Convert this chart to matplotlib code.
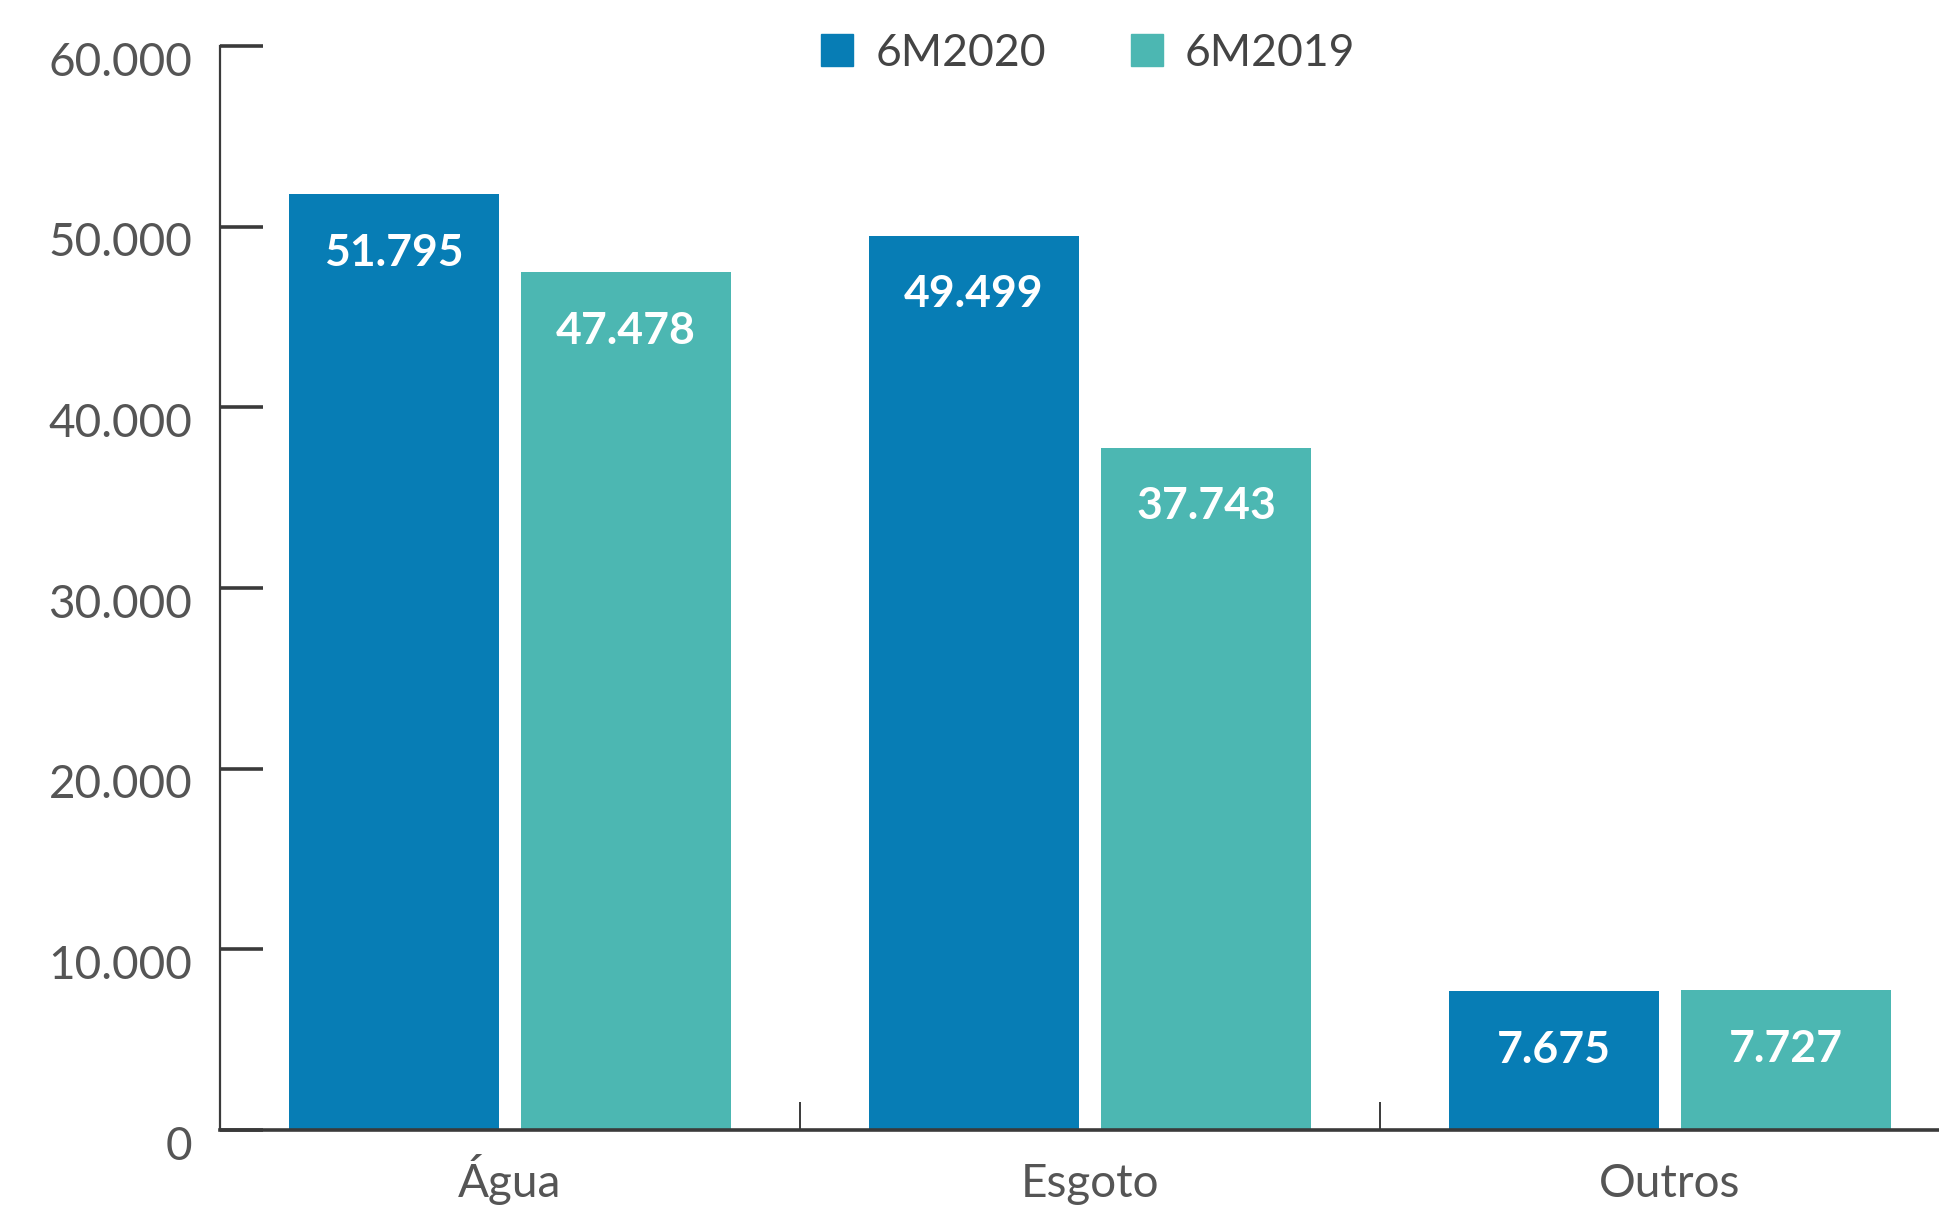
import numpy as np
import matplotlib
matplotlib.use("Agg")
import matplotlib.pyplot as plt
import matplotlib.transforms as mtransforms
from matplotlib.patches import Patch

# data
categories = ["Água", "Esgoto", "Outros"]
series_names = ["6M2020", "6M2019"]
values_2020 = [51795, 49499, 7675]
values_2019 = [47478, 37743, 7727]
y_ticks = [0, 10000, 20000, 30000, 40000, 50000, 60000]
y_tick_labels = ["0", "10.000", "20.000", "30.000", "40.000", "50.000", "60.000"]

blue = "#077db5"
teal = "#4cb7b2"
grey = "#555555"
axis_color = "#3a3a3a"

plt.rcParams['font.family'] = ['Lato', 'DejaVu Sans']

fig = plt.figure(figsize=(19.4, 12.06), dpi=100)
left = 220 / 1940
bottom = 1 - 1130 / 1206
top = 1 - 46 / 1206
ax = fig.add_axes([left, bottom, 1 - left, top - bottom])

x = np.arange(len(categories)) + 0.5
width = 0.3625
offset = 0.2

bars1 = ax.bar(x - offset, values_2020, width, color=blue, label=series_names[0], zorder=2)
bars2 = ax.bar(x + offset, values_2019, width, color=teal, label=series_names[1], zorder=2)

# value labels inside the bars
def fmt(v):
    return f"{v:,}".replace(",", ".")

for bars, vals in [(bars1, values_2020), (bars2, values_2019)]:
    for b, v in zip(bars, vals):
        ax.annotate(fmt(v), (b.get_x() + b.get_width() / 2, v),
                    xytext=(0, -42), textcoords="offset points",
                    ha="center", va="center", color="white",
                    fontsize=32, fontweight="bold", zorder=3)

ax.set_xlim(0, 1720 / 580)
ax.set_ylim(0, 60000)

for s in ["top", "right"]:
    ax.spines[s].set_visible(False)
ax.spines["left"].set_color(axis_color)
ax.spines["left"].set_linewidth(1.6)
ax.spines["bottom"].set_color(axis_color)
ax.spines["bottom"].set_linewidth(2.6)
ax.spines["left"].set_bounds(0, 60000)
ax.spines["bottom"].set_zorder(4)

# y axis
ax.set_yticks(y_ticks)
ax.set_yticklabels(y_tick_labels)
ax.tick_params(axis="y", direction="in", length=31, width=2.6, color=axis_color,
               labelsize=33, labelcolor=grey, pad=20)
shift = mtransforms.ScaledTranslation(0, -9 / 72, fig.dpi_scale_trans)
for lab in ax.get_yticklabels():
    lab.set_transform(lab.get_transform() + shift)

# x axis: separators as major ticks, names as minor ticks
ax.set_xticks([1, 2])
ax.set_xticklabels(["", ""])
ax.tick_params(axis="x", which="major", direction="in", length=20, width=1.4, color=axis_color)
ax.set_xticks(x, minor=True)
ax.set_xticklabels(categories, minor=True)
ax.tick_params(axis="x", which="minor", length=0, labelsize=33, labelcolor=grey, pad=48)
for lab in ax.get_xticklabels(minor=True):
    lab.set_va("baseline")

handles = [Patch(color=blue, label=series_names[0]), Patch(color=teal, label=series_names[1])]
fig.legend(handles=handles, loc="center", bbox_to_anchor=(0.561, 0.956), ncol=2,
           frameon=False, fontsize=32, handlelength=0.72, handleheight=0.72,
           handletextpad=0.5, columnspacing=1.9, labelcolor="#444444")

fig.savefig("out.png", dpi=100)
